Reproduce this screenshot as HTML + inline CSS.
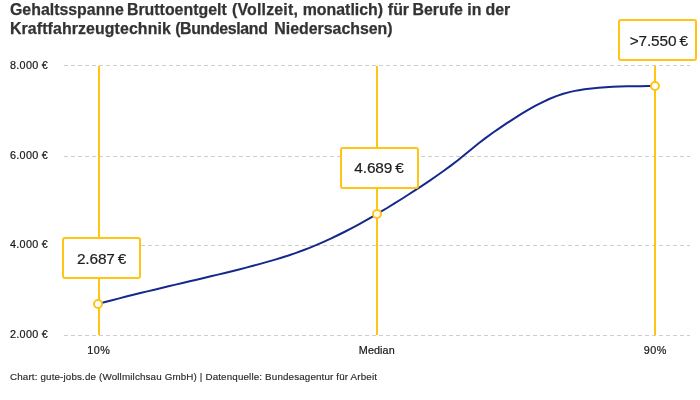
<!DOCTYPE html>
<html lang="de">
<head>
<meta charset="utf-8">
<title>Gehaltsspanne</title>
<style>
html,body{margin:0;padding:0;background:#fff;}
body{width:700px;height:400px;position:relative;overflow:hidden;font-family:"Liberation Sans",sans-serif;color:#333;}
.title{-webkit-text-stroke:0.25px #333;position:absolute;left:10px;top:0px;width:680px;font-weight:bold;font-size:15.9px;line-height:19px;color:#333;letter-spacing:0px;white-space:nowrap;}
.title span{display:block;}
.title b{position:relative;font-weight:bold;}
svg{position:absolute;left:0;top:0;}
.ylab{font-size:10.8px;fill:#181818;stroke:#181818;stroke-width:0.2px;letter-spacing:0.3px;}
.xlab{font-size:10.8px;fill:#181818;stroke:#181818;stroke-width:0.2px;text-anchor:middle;}
.val{font-size:15.4px;fill:#1d1d1d;stroke:#1d1d1d;stroke-width:0.2px;text-anchor:middle;letter-spacing:-0.15px;word-spacing:-1px;}
.foot{-webkit-text-stroke:0.15px #2a2a2a;position:absolute;left:10px;top:370.6px;font-size:9.8px;letter-spacing:0.15px;color:#2a2a2a;white-space:nowrap;}
</style>
</head>
<body>
<div class="title"><span id="t1">Gehaltsspanne <b style="left:-1.4px">Bruttoentgelt</b> <b style="left:-0.6px;letter-spacing:0.2px">(Vollzeit,</b> <b style="left:-0.4px">monatlich)</b> <b style="left:0px">für</b> <b style="left:-1px">Berufe</b> <b style="left:-1px">in</b> <b style="left:-1.3px">der</b></span><span id="t2"><b style="letter-spacing:0.1px">Kraftfahrzeugtechnik</b> <b style="left:-0.2px;letter-spacing:-0.35px">(Bundesland</b> <b style="left:2.1px">Niedersachsen)</b></span></div>
<svg width="700" height="400" viewBox="0 0 700 400">
  <g stroke="#cdcdcd" stroke-width="1" stroke-dasharray="4 3" fill="none" shape-rendering="crispEdges">
    <line x1="64" y1="65.5" x2="690" y2="65.5"/>
    <line x1="64" y1="156.5" x2="690" y2="156.5"/>
    <line x1="64" y1="245.5" x2="690" y2="245.5"/>
    <line x1="64" y1="335.5" x2="690" y2="335.5"/>
  </g>
  <g class="ylab">
    <text x="10" y="69.1">8.000 €</text>
    <text x="10" y="159.1">6.000 €</text>
    <text x="10" y="248.2">4.000 €</text>
    <text x="10" y="338.2">2.000 €</text>
  </g>
  <g stroke="#ffc414" stroke-width="2" fill="none">
    <line x1="99" y1="66" x2="99" y2="335"/>
    <line x1="377" y1="66" x2="377" y2="335"/>
    <line x1="655" y1="66" x2="655" y2="335"/>
  </g>
  <path id="curve" fill="none" stroke="#15288c" stroke-width="2" stroke-linejoin="round" stroke-linecap="round"
    d="M98.0,304.00 L105.1,302.08 L112.1,300.21 L119.2,298.37 L126.2,296.57 L133.3,294.81 L140.3,293.07 L147.4,291.35 L154.4,289.66 L161.5,287.98 L168.5,286.31 L175.6,284.65 L182.6,283.00 L189.7,281.34 L196.7,279.68 L203.8,278.02 L210.8,276.34 L217.9,274.64 L224.9,272.92 L232.0,271.18 L239.0,269.41 L246.1,267.60 L253.1,265.76 L260.2,263.87 L267.2,261.91 L274.3,259.87 L281.3,257.74 L288.4,255.48 L295.4,253.08 L302.5,250.53 L309.5,247.81 L316.6,244.92 L323.6,241.85 L330.7,238.63 L337.7,235.26 L344.8,231.74 L351.8,228.08 L358.9,224.30 L365.9,220.39 L373.0,216.36 L380.0,212.23 L387.1,207.99 L394.1,203.66 L401.2,199.25 L408.2,194.76 L415.3,190.19 L422.3,185.56 L429.4,180.85 L436.4,176.01 L443.5,171.03 L450.5,165.85 L457.6,160.44 L464.6,154.77 L471.7,148.92 L478.7,143.24 L485.8,137.86 L492.8,132.77 L499.9,127.89 L506.9,123.19 L514.0,118.62 L521.0,114.19 L528.1,109.96 L535.1,105.98 L542.2,102.32 L549.2,99.02 L556.3,96.16 L563.3,93.77 L570.4,91.87 L577.4,90.39 L584.5,89.25 L591.5,88.39 L598.6,87.74 L605.6,87.24 L612.7,86.86 L619.7,86.57 L626.8,86.37 L633.8,86.23 L640.9,86.13 L647.9,86.05 L655.0,86.00"/>
  <g fill="#fff" stroke="#ffc414" stroke-width="2">
    <circle cx="98" cy="304" r="4"/>
    <circle cx="377" cy="214" r="4"/>
    <circle cx="655" cy="86" r="4"/>
  </g>
  <g fill="#fff" stroke="#ffc414" stroke-width="2">
    <rect x="63" y="238" width="77" height="40" rx="2" ry="2"/>
    <rect x="341" y="148" width="77" height="40" rx="2" ry="2"/>
    <rect x="619" y="20" width="77" height="40" rx="2" ry="2"/>
  </g>
  <g class="val">
    <text x="101.6" y="263.7">2.687 €</text>
    <text x="379" y="173.4">4.689 €</text>
    <text x="658.8" y="45.8">&gt;7.550 €</text>
  </g>
  <g class="xlab">
    <text x="98.7" y="354" style="letter-spacing:0.5px">10%</text>
    <text x="376.8" y="354" style="letter-spacing:0.1px">Median</text>
    <text x="655.3" y="354" style="letter-spacing:0.5px">90%</text>
  </g>
</svg>
<div class="foot">Chart: gute-jobs.de (Wollmilchsau GmbH) | Datenquelle: Bundesagentur für Arbeit</div>
</body>
</html>
